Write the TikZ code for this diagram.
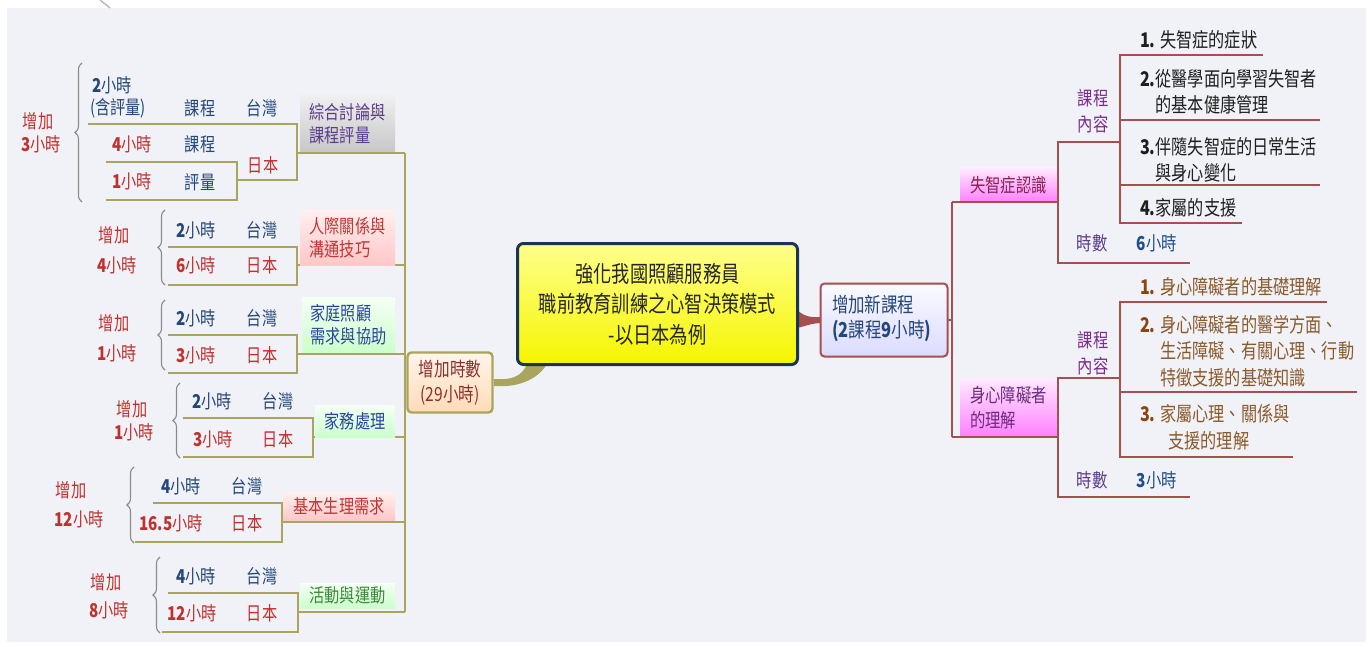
\documentclass[tikz,border=0pt]{standalone}
\usepackage{fontspec}
\setmainfont{Noto Sans CJK TC}[FakeStretch=0.8]
\usetikzlibrary{decorations.pathreplacing}
\definecolor{bg}{HTML}{F1F2F7}
\definecolor{olv}{HTML}{A9A55E}
\definecolor{rbr}{HTML}{A5504E}
\definecolor{dblue}{HTML}{24477A}
\definecolor{dred}{HTML}{C0302E}
\definecolor{bracegray}{HTML}{8A8A8A}
\definecolor{gpurple}{HTML}{5C3C8C}
\definecolor{pred}{HTML}{C03535}
\definecolor{gblue}{HTML}{2A45A0}
\definecolor{ggreen}{HTML}{3B8A3B}
\definecolor{mred}{HTML}{8A2250}
\definecolor{mpurple}{HTML}{6B2C7E}
\definecolor{kpurple}{HTML}{7B2D8B}
\definecolor{hblue}{HTML}{1F4E8A}
\definecolor{brn}{HTML}{8B5A2B}
\definecolor{brnb}{HTML}{8B4513}
\definecolor{adred}{HTML}{8B2E2E}
\definecolor{cnborder}{HTML}{1A3553}
\definecolor{ytop}{HTML}{FFFF8C}
\definecolor{ybot}{HTML}{F5F500}
\newcommand\fs[2]{\fontsize{#1}{#2}\selectfont}
\begin{document}
\begin{tikzpicture}[x=1pt,y=-1pt,
  every node/.style={inner sep=0pt,outer sep=0pt,font=\fs{19}{23}},
  ln/.style={olv,line width=2.6pt},
  rl/.style={rbr,line width=2.4pt},
  bracestyle/.style={bracegray,line width=1.1pt,decorate,decoration={brace,amplitude=7pt}},
  tb/.style={text=dblue},
  tr/.style={text=dred},
  pinkbox/.style={top color=red!6,bottom color=red!22},
  greenbox/.style={top color=green!4,bottom color=green!20},
  graybox/.style={top color=black!6,bottom color=black!22},
  magbox/.style={top color=magenta!8,bottom color=magenta!50},
  ritem/.style={anchor=west,align=left,font=\fs{20.2}{25.5}},
]
\useasboundingbox (0,0) rectangle (1372,647);
\fill[bg] (7,8) rectangle (1366,642);
\draw[black!30,line width=1.3pt] (100,0) -- (110,8);

% ---------- left trunk ----------
\draw[ln] (405,153) -- (405,612);

% group 1
\draw[bracestyle] (82,202) -- (82,63);
\node[tr] (g1a) at (38,121) {增加};
\node[tr] (g1b) at (41,144) {\textbf{3}小時};
\node[tb,anchor=west] (g1c) at (92,85) {\textbf{2}小時};
\node[tb,anchor=west] (g1d) at (90,108) {(含評量)};
\node[tb] (g1e) at (200,108) {課程};
\node[tb] (g1f) at (262,108) {台灣};
\node[tr] (g1g) at (132,144) {\textbf{4}小時};
\node[tb] (g1h) at (200,144) {課程};
\node[tr] (g1i) at (263,165) {日本};
\node[tr] (g1j) at (132,181) {\textbf{1}小時};
\node[tb] (g1k) at (200,182) {評量};
\draw[ln] (88,124) -| (297,180) -- (237,180);
\draw[ln] (106,162) -| (237,200) -- (106,200);
\draw[ln] (297,153) -- (405,153);
\node[graybox,minimum width=95,minimum height=57,text=gpurple,align=left] (g1n) at (347.5,123.5) {綜合討論與\\課程評量};

% group 2
\draw[bracestyle] (165,285) -- (165,210);
\node[tr] (g2a) at (114,235) {增加};
\node[tr] (g2b) at (117,265) {\textbf{4}小時};
\node[tb] (g2c) at (196,230) {\textbf{2}小時};
\node[tb] (g2d) at (262,230) {台灣};
\node[tr] (g2e) at (196,265) {\textbf{6}小時};
\node[tr] (g2f) at (262,265) {日本};
\draw[ln] (168,247) -| (297,285) -- (168,285);
\draw[ln] (297,265) -- (405,265);
\node[pinkbox,minimum width=95,minimum height=55,text=pred,align=left] (g2n) at (347.5,237.5) {人際關係與\\溝通技巧};

% group 3
\draw[bracestyle] (165,370) -- (165,300);
\node[tr] (g3a) at (114,323) {增加};
\node[tr] (g3b) at (117,353) {\textbf{1}小時};
\node[tb] (g3c) at (196,318) {\textbf{2}小時};
\node[tb] (g3d) at (262,318) {台灣};
\node[tr] (g3e) at (196,355) {\textbf{3}小時};
\node[tr] (g3f) at (262,355) {日本};
\draw[ln] (168,335) -| (297,373) -- (168,373);
\draw[ln] (297,354) -- (405,354);
\node[greenbox,minimum width=93,minimum height=55,text=gblue,align=left] (g3n) at (348.5,324.5) {家庭照顧\\需求與協助};

% group 4
\draw[bracestyle] (180,458) -- (180,383);
\node[tr] (g4a) at (132,409) {增加};
\node[tr] (g4b) at (134,432) {\textbf{1}小時};
\node[tb] (g4c) at (212,401) {\textbf{2}小時};
\node[tb] (g4d) at (278,401) {台灣};
\node[tr] (g4e) at (213,439) {\textbf{3}小時};
\node[tr] (g4f) at (278,439) {日本};
\draw[ln] (183,418) -| (313,457) -- (183,457);
\draw[ln] (313,437) -- (405,437);
\node[greenbox,minimum width=80,minimum height=32,text=gblue] (g4n) at (355,421) {家務處理};

% group 5
\draw[bracestyle] (134,543) -- (134,467);
\node[tr] (g5a) at (71,490) {增加};
\node[tr] (g5b) at (79,519) {\textbf{12}小時};
\node[tb] (g5c) at (181,486) {\textbf{4}小時};
\node[tb] (g5d) at (247,486) {台灣};
\node[tr] (g5e) at (171,523) {\textbf{16.5}小時};
\node[tr] (g5f) at (247,523) {日本};
\draw[ln] (153,503) -| (282,542) -- (135,542);
\draw[ln] (282,522) -- (405,522);
\node[pinkbox,minimum width=112,minimum height=28,text=pred] (g5n) at (339,506) {基本生理需求};

% group 6
\draw[bracestyle] (160,633) -- (160,557);
\node[tr] (g6a) at (106,582) {增加};
\node[tr] (g6b) at (109,610) {\textbf{8}小時};
\node[tb] (g6c) at (196,576) {\textbf{4}小時};
\node[tb] (g6d) at (262,576) {台灣};
\node[tr] (g6e) at (192,613) {\textbf{12}小時};
\node[tr] (g6f) at (262,613) {日本};
\draw[ln] (168,593) -| (298,632) -- (162,632);
\draw[ln] (298,612) -- (405,612);
\node[greenbox,minimum width=95,minimum height=25,text=ggreen] (g6n) at (347.5,595.5) {活動與運動};

% ---------- hours node ----------
\node[draw=olv,line width=2.4pt,rounded corners=4pt,top color=orange!8,bottom color=orange!28,
  minimum width=85,minimum height=60,align=center,text=adred,font=\fs{19.5}{25}] (ad) at (450,382.5) {增加時數\\(29小時)};

% connectors from center
\fill[olv] (528,362) .. controls (522,378) and (510,380) .. (494,379) -- (494,386) .. controls (520,388) and (540,378) .. (548,362) -- cycle;
\fill[rbr] (797,310) .. controls (806,318) and (812,317) .. (822,317) -- (822,323) .. controls (812,323) and (806,326) .. (797,328) -- cycle;

% ---------- center node ----------
\node[draw=cnborder,line width=3pt,rounded corners=6pt,
  top color=ytop,bottom color=ybot,
  minimum width=280,minimum height=121,align=center,text=black!85,font=\fs{22.8}{30.5}] (cn) at (657.5,304)
  {強化我國照顧服務員\\職前教育訓練之心智決策模式\\-以日本為例};

% ---------- new course node ----------
\node[draw=rbr,line width=2pt,rounded corners=4pt,top color=blue!2,bottom color=blue!14,
  minimum width=127,minimum height=73] (nc) at (884,320) {};
\node[anchor=west,align=left,text=dblue,font=\fs{20.6}{25}] (nct) at (832,318) {增加新課程\\\textbf{(2}課程\textbf{9}小時\textbf{)}};

% right trunk
\draw[rl] (nc.east) -- (952,320);
\draw[rl] (952,202) -- (952,437);

% ---- dementia branch ----
\node[magbox,minimum width=97,minimum height=34,text=mred,font=\fs{19.2}{24}] (dm) at (1008.5,185) {失智症認識};
\draw[rl] (952,202) -- (1058,202);
\draw[rl] (1120,142) -- (1058,142) -- (1058,263) -- (1190,263);
\draw[rl] (1263,55) -- (1120,55) -- (1120,223) -- (1242,223);
\draw[rl] (1120,120) -- (1320,120);
\draw[rl] (1120,185) -- (1320,185);
\node[align=center,text=kpurple,font=\fs{19.2}{26}] (dmk) at (1093,111) {課程\\內容};
\node[text=gpurple,font=\fs{19.2}{24}] (dmh) at (1092,243) {時數};
\node[text=hblue,font=\fs{19.2}{24}] (dmhv) at (1157,243) {\textbf{6}小時};
\node[ritem,text=black!88] (dm1) at (1140,40) {\textbf{1.} 失智症的症狀};
\node[ritem,text=black!88] (dm2) at (1140,92) {\textbf{2.}從醫學面向學習失智者\\\phantom{\textbf{2.}}的基本健康管理};
\node[ritem,text=black!88] (dm3) at (1140,160) {\textbf{3.}伴隨失智症的日常生活\\\phantom{\textbf{3.}}與身心變化};
\node[ritem,text=black!88] (dm4) at (1140,208) {\textbf{4.}家屬的支援};

% ---- disability branch ----
\node[magbox,minimum width=97,minimum height=59,text=mpurple,align=left,font=\fs{19.2}{25}] (ds) at (1008.5,407.5) {身心障礙者\\的理解};
\draw[rl] (952,437) -- (1058,437);
\draw[rl] (1120,378) -- (1058,378) -- (1058,497) -- (1190,497);
\draw[rl] (1327,302) -- (1120,302) -- (1120,457) -- (1293,457);
\draw[rl] (1120,392) -- (1357,392);
\node[align=center,text=kpurple,font=\fs{19.2}{26}] (dsk) at (1093,353) {課程\\內容};
\node[text=gpurple,font=\fs{19.2}{24}] (dsh) at (1092,480) {時數};
\node[text=hblue,font=\fs{19.2}{24}] (dshv) at (1157,480) {\textbf{3}小時};
\node[ritem,text=brn] (ds1) at (1140,287) {\textbf{\color{brnb}1.} 身心障礙者的基礎理解};
\node[ritem,text=brn,font=\fs{20.2}{26.5}] (ds2) at (1140,351) {\textbf{\color{brnb}2.} 身心障礙者的醫学方面、\\\phantom{\textbf{2.} }生活障礙、有關心理、行動\\\phantom{\textbf{2.} }特徵支援的基礎知識};
\node[ritem,text=brn,font=\fs{20.2}{27}] (ds3) at (1140,427) {\textbf{\color{brnb}3.} 家屬心理、關係與\\\phantom{\textbf{3.} x}支援的理解};
\end{tikzpicture}
\end{document}
